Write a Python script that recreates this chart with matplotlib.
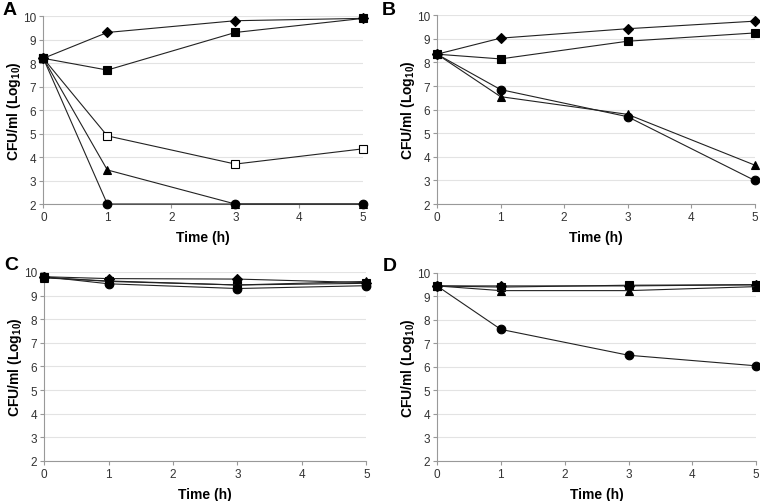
import matplotlib.pyplot as plt

plt.rcParams['font.family'] = ['Liberation Sans', 'DejaVu Sans']
plt.rcParams['mathtext.fontset'] = 'custom'
plt.rcParams['mathtext.bf'] = 'Liberation Sans:bold'
plt.rcParams['mathtext.rm'] = 'Liberation Sans'

time = [0, 1, 3, 5]

# panel A
a_diamond = [8.2, 9.3, 9.8, 9.9]
a_square = [8.2, 7.7, 9.3, 9.9]
a_open_square = [8.2, 4.9, 3.7, 4.35]
a_triangle = [8.2, 3.45, 2.0, 2.0]
a_circle = [8.2, 2.0, 2.0, 2.0]

# panel B
b_diamond = [8.35, 9.03, 9.43, 9.75]
b_square = [8.35, 8.15, 8.9, 9.25]
b_circle = [8.35, 6.85, 5.7, 3.0]
b_triangle = [8.35, 6.55, 5.8, 3.65]

# panel C
c_diamond = [9.8, 9.72, 9.7, 9.55]
c_square = [9.78, 9.6, 9.45, 9.52]
c_triangle = [9.75, 9.62, 9.45, 9.6]
c_circle = [9.8, 9.5, 9.3, 9.42]

# panel D
d_diamond = [9.45, 9.45, 9.45, 9.5]
d_square = [9.45, 9.4, 9.48, 9.5]
d_triangle = [9.45, 9.25, 9.25, 9.42]
d_circle = [9.45, 7.6, 6.5, 6.05]

styles = {
    'diamond': dict(marker='D', markersize=4.8, mfc='black'),
    'square': dict(marker='s', markersize=5.2, mfc='black'),
    'open_square': dict(marker='s', markersize=6.2, mfc='white'),
    'triangle': dict(marker='^', markersize=6.2, mfc='black'),
    'circle': dict(marker='o', markersize=6.2, mfc='black'),
}

panels = [
    ('A', [0.057, 0.5916, 0.421, 0.3745], (3, 2),
     [('open_square', a_open_square), ('triangle', a_triangle), ('circle', a_circle),
      ('square', a_square), ('diamond', a_diamond)]),
    ('B', [0.575, 0.5916, 0.418, 0.376], (382, 2),
     [('triangle', b_triangle), ('circle', b_circle),
      ('square', b_square), ('diamond', b_diamond)]),
    ('C', [0.058, 0.0797, 0.424, 0.3765], (4, 257),
     [('square', c_square), ('triangle', c_triangle), ('circle', c_circle), ('diamond', c_diamond)]),
    ('D', [0.575, 0.0797, 0.42, 0.3745], (383, 258),
     [('diamond', d_diamond), ('square', d_square), ('triangle', d_triangle), ('circle', d_circle)]),
]

W, H = 760, 502
fig = plt.figure(figsize=(W / 100, H / 100), dpi=100)

for letter, pos, (lx, ly), series in panels:
    ax = fig.add_axes(pos)
    for name, vals in series:
        ax.plot(time, vals, color='#222222', linewidth=0.8, mec='black',
                mew=0.8, clip_on=False, zorder=3, **styles[name])
    ax.set_xlim(0, 5)
    ax.set_ylim(2, 10)
    ax.set_xticks(range(6))
    ax.set_yticks(range(2, 11))
    ax.grid(axis='y', color='#e3e3e3', linewidth=0.8)
    ax.set_axisbelow(True)
    for s in ['top', 'right']:
        ax.spines[s].set_visible(False)
    for s in ['left', 'bottom']:
        ax.spines[s].set_color('#999999')
        ax.spines[s].set_linewidth(0.8)
    ax.tick_params(length=3, width=0.8, color='#999999', labelsize=8.5,
                   labelcolor='#333333', pad=2)
    ax.set_xlabel('Time (h)', fontsize=10, fontweight='bold', labelpad=5)
    ax.set_ylabel('CFU/ml (Log$_{\\mathbf{10}}$)', fontsize=10, fontweight='bold', labelpad=0)
    fig.text(lx / W, 1 - ly / H, letter, fontsize=14, fontweight='bold',
             ha='left', va='top')

fig.savefig('out.png', dpi=100)
